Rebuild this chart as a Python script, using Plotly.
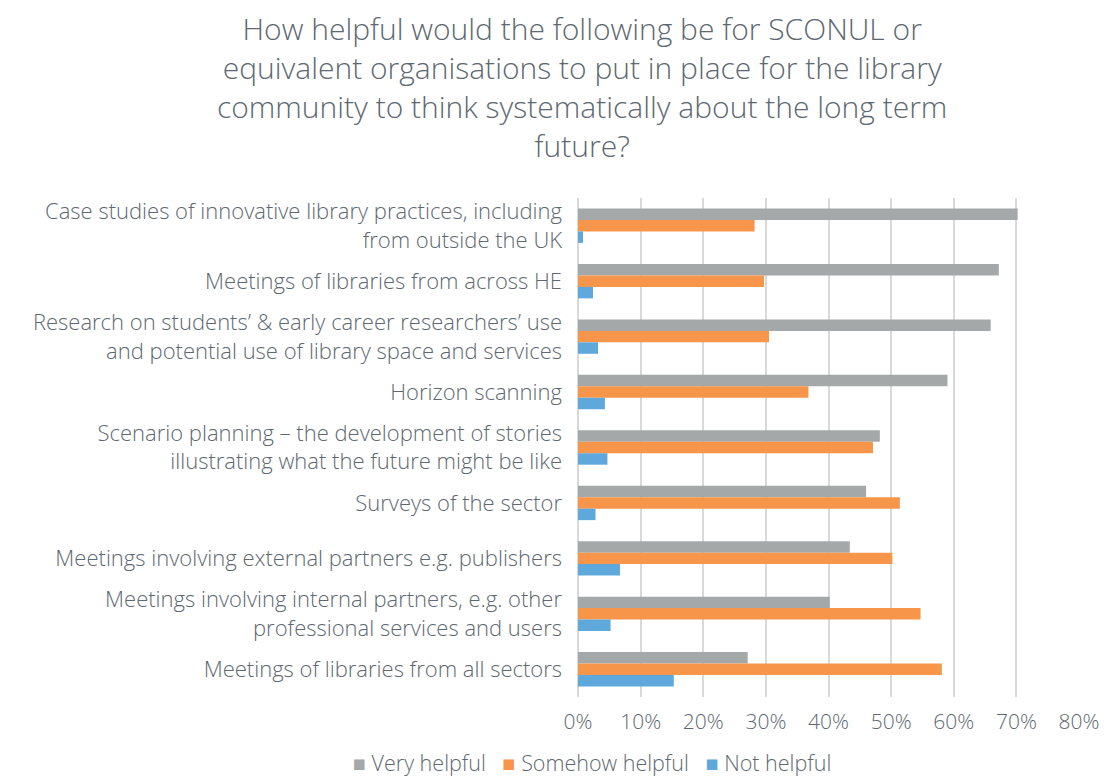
import plotly.graph_objects as go

categories = [
    "Case studies of innovative library practices, including<br>from outside the UK",
    "Meetings of libraries from across HE",
    "Research on students’ & early career researchers’ use<br>and potential use of library space and services",
    "Horizon scanning",
    "Scenario planning – the development of stories<br>illustrating what the future might be like",
    "Surveys of the sector",
    "Meetings involving external partners e.g. publishers",
    "Meetings involving internal partners, e.g. other<br>professional services and users",
    "Meetings of libraries from all sectors",
]
very_helpful = [0.702, 0.672, 0.659, 0.590, 0.482, 0.460, 0.434, 0.402, 0.271]
somehow_helpful = [0.282, 0.297, 0.305, 0.368, 0.471, 0.514, 0.502, 0.547, 0.581]
not_helpful = [0.008, 0.024, 0.032, 0.043, 0.047, 0.028, 0.067, 0.052, 0.153]
series_names = ["Very helpful", "Somehow helpful", "Not helpful"]
colors = ["#a5a8a9", "#f7964a", "#5ea8dc"]
tick_vals = [0, 0.1, 0.2, 0.3, 0.4, 0.5, 0.6, 0.7, 0.8]
tick_text = ["0%", "10%", "20%", "30%", "40%", "50%", "60%", "70%", "80%"]

title_text = ("How helpful would the following be for SCONUL or<br>"
              "equivalent organisations to put in place for the library<br>"
              "community to think systematically about the long term<br>future?")

FONT = "Open Sans"
W = 300
TXT = "#5d6870"
LBL_SIZE = 22

fig = go.Figure()
for name, vals, col in zip(series_names, [very_helpful, somehow_helpful, not_helpful], colors):
    fig.add_trace(go.Bar(
        x=vals, y=categories, name=name, orientation="h",
        marker=dict(color=col, line=dict(width=0)),
        showlegend=False,
    ))

# title
fig.add_annotation(
    text=title_text, xref="paper", yref="paper",
    x=(582 - 578) / 501, y=1 + (198 - 87) / 499,
    xanchor="center", yanchor="middle", showarrow=False, align="center",
    font=dict(family=FONT, size=30, color=TXT, weight=W),
)

# legend as text
legend_text = "   ".join(
    f"<span style='color:{c}'>■</span> {n}" for n, c in zip(series_names, colors)
)
fig.add_annotation(
    text=legend_text, xref="paper", yref="paper",
    x=(592 - 578) / 501, y=-(762 - 697) / 499,
    xanchor="center", yanchor="middle", showarrow=False,
    font=dict(family=FONT, size=21.5, color=TXT, weight=W),
)

fig.update_layout(
    width=1107, height=778,
    paper_bgcolor="white", plot_bgcolor="white",
    margin=dict(l=578, r=28, t=198, b=81, autoexpand=False),
    barmode="group", bargap=0.38, bargroupgap=0,
    font=dict(family=FONT, color=TXT, size=20, weight=W),
    showlegend=False,
)
fig.update_xaxes(
    range=[0, 0.8], tickvals=tick_vals, ticktext=tick_text,
    showgrid=True, gridcolor="#d9d9d9", gridwidth=1.5,
    zeroline=True, zerolinecolor="#d9d9d9", zerolinewidth=1.5,
    showline=False, ticks="", ticklabelstandoff=10,
    tickfont=dict(family=FONT, size=21, color=TXT, weight=W),
)
fig.update_yaxes(
    autorange="reversed", showgrid=False, showline=False, ticks="",
    ticklabelstandoff=15,
    tickfont=dict(family=FONT, size=LBL_SIZE, color=TXT, weight=W),
)

fig.write_html("out.html", config={"displayModeBar": False},
               post_script="document.body.style.margin='0';")
